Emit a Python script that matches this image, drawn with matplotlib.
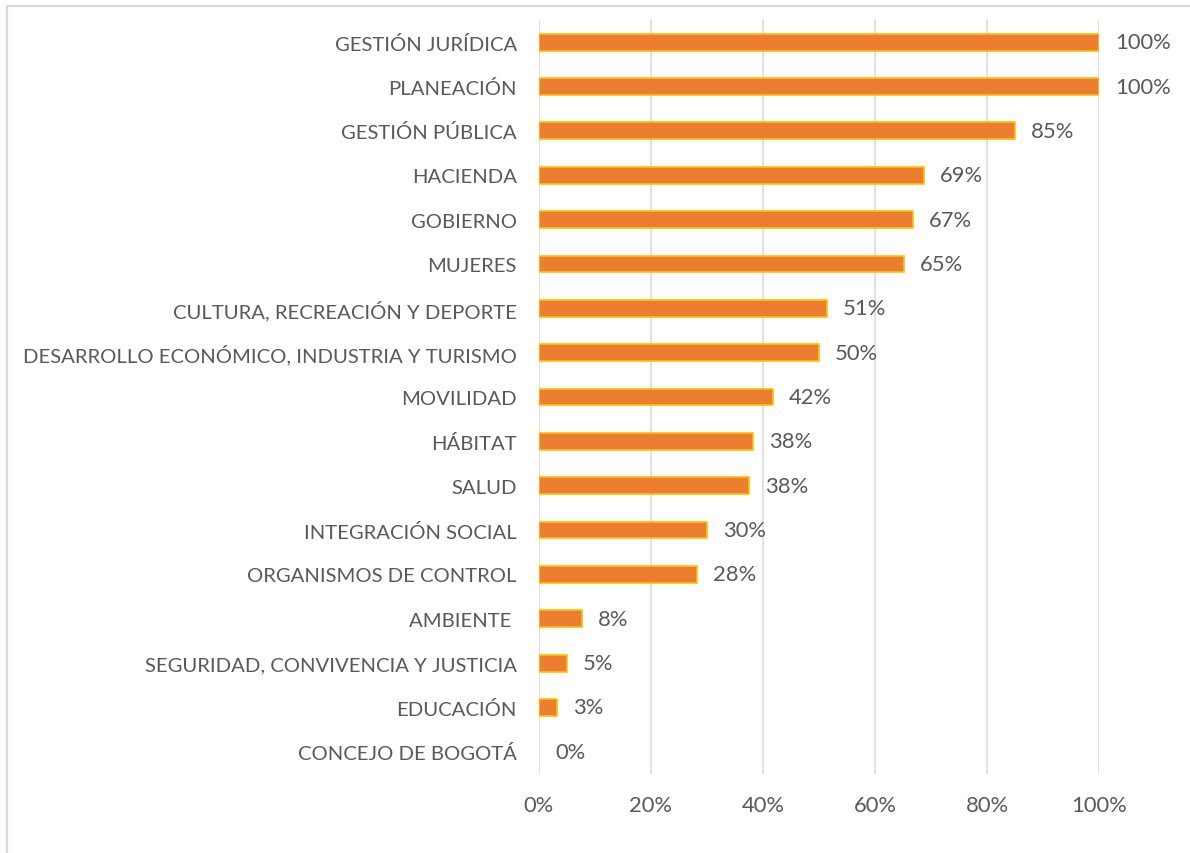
import matplotlib.pyplot as plt
from matplotlib.patches import Rectangle

# porcentaje por sector
sectores = ['GESTIÓN JURÍDICA', 'PLANEACIÓN', 'GESTIÓN PÚBLICA', 'HACIENDA', 'GOBIERNO',
            'MUJERES', 'CULTURA, RECREACIÓN Y DEPORTE',
            'DESARROLLO ECONÓMICO, INDUSTRIA Y TURISMO', 'MOVILIDAD', 'HÁBITAT', 'SALUD',
            'INTEGRACIÓN SOCIAL', 'ORGANISMOS DE CONTROL', 'AMBIENTE ',
            'SEGURIDAD, CONVIVENCIA Y JUSTICIA', 'EDUCACIÓN', 'CONCEJO DE BOGOTÁ']
porcentajes = [100, 100, 85, 68.8, 66.7, 65.2, 51.4, 50.0, 41.7, 38.2, 37.5,
               30.0, 28.3, 7.6, 5.0, 3.3, 0]
ticks_x = [0, 20, 40, 60, 80, 100]

gris = '#595959'
fs = 14.6      # etiquetas de categorias
fs_num = 15.8  # numeros
plt.rcParams['font.family'] = ['Lato', 'DejaVu Sans']

fig = plt.figure(figsize=(11.9, 8.54), dpi=100)
# marco del grafico
fig.patches.append(Rectangle((7 / 1190, -0.1), 1.2, 1.1 - 7 / 854, transform=fig.transFigure,
                             fill=False, edgecolor='#D9D9D9', linewidth=1.6))
ax = fig.add_axes([539 / 1190, 1 - 775 / 854, 560 / 1190, 754 / 854])

y = list(range(len(sectores)))
bordes = [1.2 if v > 0 else 0 for v in porcentajes]
ax.barh(y, porcentajes, height=0.38, color='#ED7D31', edgecolor='#FFC000', linewidth=bordes, zorder=3)
for yi, v in zip(y, porcentajes):
    ax.annotate(f'{round(v)}%', (v, yi), xytext=(11.5, 0), textcoords='offset points',
                va='center', ha='left', fontsize=fs_num, color=gris)

ax.set_xlim(0, 100)
ax.set_ylim(len(sectores) - 0.5, -0.5)
ax.set_yticks(y)
ax.set_yticklabels(sectores)
ax.set_xticks(ticks_x)
ax.set_xticklabels([f'{t}%' for t in ticks_x])
ax.tick_params(axis='y', length=0, pad=16, labelsize=fs, labelcolor=gris)
ax.tick_params(axis='x', length=0, pad=15, labelsize=fs_num, labelcolor=gris)
ax.grid(axis='x', color='#D9D9D9', linewidth=1.1, zorder=0)
for s in ax.spines.values():
    s.set_visible(False)

plt.savefig('out.png', dpi=100)
